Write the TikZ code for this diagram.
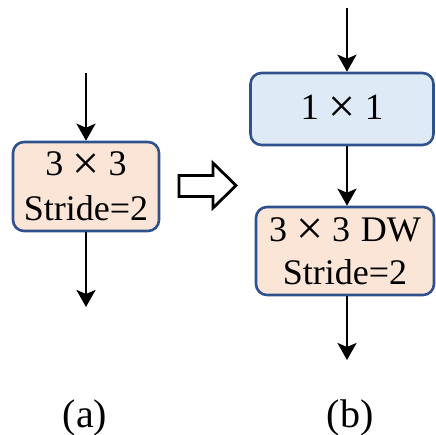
\documentclass[tikz,border=0pt]{standalone}
\usepackage{fontspec}
\setmainfont{Liberation Serif}
\usetikzlibrary{arrows.meta}
\definecolor{peach}{HTML}{FBE5D6}
\definecolor{lblue}{HTML}{DEEBF7}
\definecolor{bord}{HTML}{2F528F}
\newcommand{\tms}{\hspace{0.25em}\raisebox{-3.5pt}{\fontsize{48}{48}\selectfont ×}\hspace{0.25em}}
\tikzset{
  blk/.style={draw=bord, line width=2.6pt, rounded corners=11pt, inner sep=0pt, align=center},
  flow/.style={line width=2.6pt, -{Stealth[length=17pt,width=19pt,inset=4pt]}},
  lbl/.style={font=\fontsize{40}{44}\selectfont, anchor=base}
}
\begin{document}
\begin{tikzpicture}[x=1pt,y=-1pt]
\useasboundingbox (0,0) rectangle (436,435);
% (a)
\node[blk, fill=peach, minimum width=146pt, minimum height=89pt,
  font=\fontsize{36}{45}\selectfont] (a1) at (86,186.5) {3\tms 3\\Stride=2};
\coordinate (ain) at (86,73);
\coordinate (aout) at (86,307);
\draw[flow] (ain) -- (a1.north);
\draw[flow] (a1.south) -- (aout);
% hollow arrow
\draw[line width=2.8pt, fill=white, line join=miter] (179,175.5) -- (213,175.5) -- (213,163) -- (236,185.5) -- (213,208) -- (213,196.5) -- (179,196.5) -- cycle;
% (b)
\node[blk, fill=lblue, minimum width=183pt, minimum height=72pt,
  font=\fontsize{37}{44}\selectfont] (b1) at (342,109) {1\tms 1};
\node[blk, fill=peach, minimum width=178pt, minimum height=88pt,
  font=\fontsize{36}{43}\selectfont] (b2) at (345,251) {3\tms 3\hspace{0.3em}DW\\Stride=2};
\coordinate (bin) at (347,8);
\coordinate (bout) at (347,360);
\draw[flow] (bin) -- (bin |- b1.north);
\draw[flow] (bin |- b1.south) -- (bin |- b2.north);
\draw[flow] (bin |- b2.south) -- (bout);
% labels
\node[lbl] (la) at (85,427) {(a)};
\node[lbl] (lb) at (350,427) {(b)};
\end{tikzpicture}
\end{document}
